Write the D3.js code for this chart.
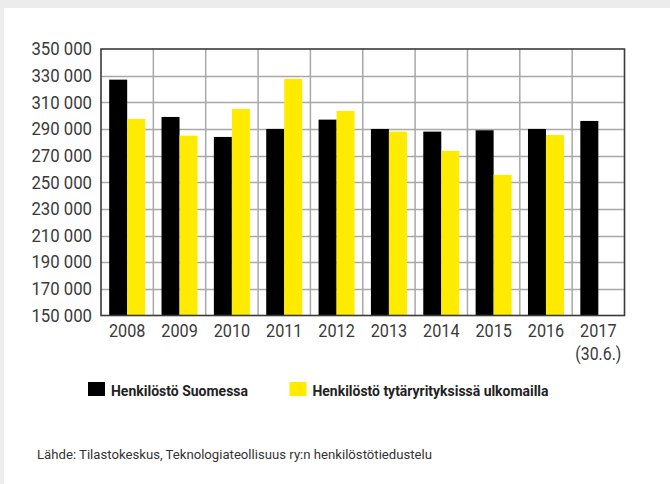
<!DOCTYPE html>
<html>
<head>
<meta charset="utf-8">
<script src="https://cdn.jsdelivr.net/npm/d3@7"></script>
<style>
  html, body { margin: 0; padding: 0; background: #ececec; }
  svg { display: block; }
  text { font-family: Roboto, 'Noto Sans', sans-serif; }
</style>
</head>
<body>
<div id="chart"></div>
<script>
// Data
const years = ['2008', '2009', '2010', '2011', '2012', '2013', '2014', '2015', '2016', '2017'];
const yearNotes = ['', '', '', '', '', '', '', '', '', '(30.6.)'];
const finland = [327000, 299000, 284000, 290000, 297000, 290000, 288000, 289000, 290000, 296000];
const abroad = [297500, 285000, 305000, 327500, 303500, 288000, 273500, 255500, 285500, null];
const seriesNames = ['Henkilöstö Suomessa', 'Henkilöstö tytäryrityksissä ulkomailla'];
const seriesColors = ['#000000', '#ffeb00'];
const yTicks = d3.range(150000, 350001, 20000);
const source = 'Lähde: Tilastokeskus, Teknologiateollisuus ry:n henkilöstötiedustelu';

const config = {
  width: 670,
  height: 484,
  plot: { left: 101, top: 49, right: 624.5, bottom: 315.5 }
};

const svg = d3.select('#chart').append('svg')
  .attr('width', config.width)
  .attr('height', config.height);

// white panel on the grey page
svg.append('rect')
  .attr('x', 4).attr('y', 8)
  .attr('width', config.width - 4).attr('height', config.height - 8)
  .attr('fill', '#ffffff');

const xScale = d3.scaleBand()
  .domain(years)
  .range([config.plot.left, config.plot.right]);

const yScale = d3.scaleLinear()
  .domain([150000, 350000])
  .range([config.plot.bottom, config.plot.top]);

const barWidth = 18;
const fmt = d => d3.format(',')(d).replace(',', ' ');

// squeeze text a bit to look like the condensed original font
function condense(sel, k) {
  sel.each(function () {
    const w = this.getComputedTextLength();
    d3.select(this).attr('textLength', w * k).attr('lengthAdjust', 'spacingAndGlyphs');
  });
}

// grid
const grid = svg.append('g').attr('class', 'grid');
grid.selectAll('line.h')
  .data(yTicks.slice(1, -1))
  .enter().append('line')
  .attr('class', 'h')
  .attr('x1', config.plot.left).attr('x2', config.plot.right)
  .attr('y1', d => Math.round(yScale(d)) + 0.5)
  .attr('y2', d => Math.round(yScale(d)) + 0.5)
  .attr('stroke', '#a8a8a8').attr('stroke-width', 1.5);
grid.selectAll('line.v')
  .data(years.slice(1))
  .enter().append('line')
  .attr('class', 'v')
  .attr('y1', config.plot.top).attr('y2', config.plot.bottom)
  .attr('x1', d => xScale(d))
  .attr('x2', d => xScale(d))
  .attr('stroke', '#a8a8a8').attr('stroke-width', 1.5);

// bars
const series = [finland, abroad];
series.forEach((values, s) => {
  svg.append('g').attr('class', 'bars' + s)
    .selectAll('rect')
    .data(years.map((y, i) => ({ year: y, value: values[i] })).filter(d => d.value != null))
    .enter().append('rect')
    .attr('x', d => xScale(d.year) + xScale.bandwidth() / 2 - barWidth + s * barWidth)
    .attr('y', d => yScale(d.value))
    .attr('width', barWidth)
    .attr('height', d => yScale(150000) - yScale(d.value))
    .attr('fill', seriesColors[s]);
});

// plot frame
svg.append('rect')
  .attr('x', config.plot.left).attr('y', config.plot.top)
  .attr('width', config.plot.right - config.plot.left)
  .attr('height', config.plot.bottom - config.plot.top)
  .attr('fill', 'none')
  .attr('stroke', '#3a3a3a').attr('stroke-width', 1.6);

// y axis
const yAxis = svg.append('g')
  .attr('transform', `translate(${config.plot.left},0)`)
  .call(d3.axisLeft(yScale).tickValues(yTicks).tickFormat(fmt).tickSize(0).tickPadding(9));
yAxis.select('.domain').remove();
yAxis.selectAll('text')
  .attr('font-size', 18)
  .attr('fill', '#3a3a3a')
  .style('font-family', 'Roboto, sans-serif')
  .call(condense, 0.93);

// x axis
const xAxis = svg.append('g')
  .attr('transform', `translate(0,${config.plot.bottom})`)
  .call(d3.axisBottom(xScale).tickSize(0).tickPadding(9));
xAxis.select('.domain').remove();
xAxis.selectAll('text')
  .attr('font-size', 18)
  .attr('fill', '#3a3a3a')
  .style('font-family', 'Roboto, sans-serif')
  .call(condense, 0.9);
xAxis.selectAll('.tick')
  .filter(d => yearNotes[years.indexOf(d)])
  .append('text')
  .attr('y', 32)
  .attr('dy', '0.71em')
  .attr('fill', '#3a3a3a')
  .attr('font-size', 18)
  .attr('text-anchor', 'middle')
  .style('font-family', 'Roboto, sans-serif')
  .text(d => yearNotes[years.indexOf(d)])
  .call(condense, 0.88);

// legend
const legendPos = [{ x: 88, w: 137 }, { x: 289.5, w: 236 }];
const legend = svg.append('g').attr('class', 'legend');
seriesNames.forEach((name, i) => {
  legend.append('rect')
    .attr('x', legendPos[i].x).attr('y', 382)
    .attr('width', 17).attr('height', 14)
    .attr('fill', seriesColors[i]);
  legend.append('text')
    .attr('x', legendPos[i].x + 23).attr('y', 395.5)
    .attr('font-size', 15.5)
    .attr('font-weight', 'bold')
    .attr('fill', '#222')
    .attr('textLength', legendPos[i].w)
    .attr('lengthAdjust', 'spacingAndGlyphs')
    .text(name);
});

// source
svg.append('text')
  .attr('x', 37).attr('y', 459)
  .attr('font-size', 12.5)
  .attr('fill', '#333')
  .attr('textLength', 395)
  .attr('lengthAdjust', 'spacingAndGlyphs')
  .text(source);
</script>
</body>
</html>
